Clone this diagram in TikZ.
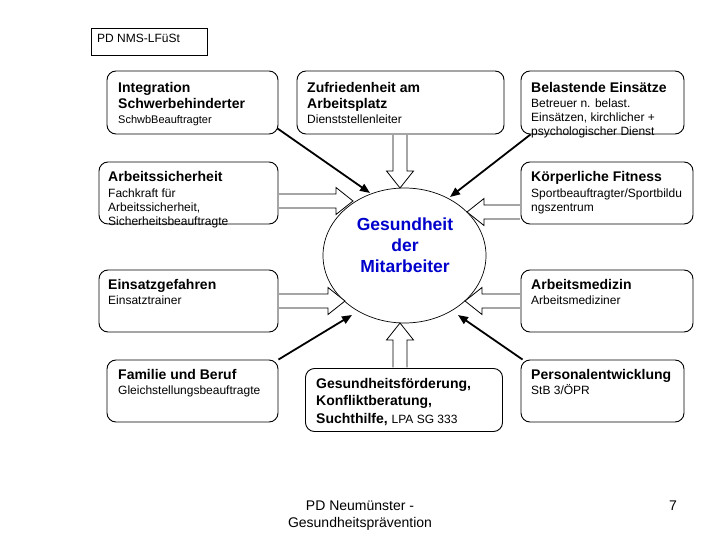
\documentclass[tikz,border=0pt]{standalone}
\usepackage{fontspec}
\setmainfont{Liberation Sans}
\usetikzlibrary{shapes.geometric,arrows.meta,calc}
\definecolor{hblue}{RGB}{0,0,204}
\tikzset{
  box/.style={draw=black, line width=0.9pt, rounded corners=9pt, inner sep=0pt},
  hd/.style={anchor=north west, inner sep=0pt, align=left, font=\fontsize{14}{16}\selectfont\bfseries},
  sb/.style={anchor=north west, inner sep=0pt, align=left, font=\fontsize{12}{14}\selectfont},
  diag/.style={line width=1.8pt, -{Triangle[length=10pt,width=8pt]}},
  blk/.style={draw=black, line width=0.8pt, fill=white, line join=miter},
}
% horizontal block arrow: start, tip, direction (+1 right, -1 left)
\newcommand\harr[3]{\draw[blk] let \p1=(#1),\p2=(#2),\n1={\x2-17pt*#3},\n2={\x1+0.6pt*#3} in
  (\n2,\y2+7pt) -- (\n1,\y2+7pt) -- (\n1,\y2+13.5pt) -- (\x2,\y2) -- (\n1,\y2-13.5pt) -- (\n1,\y2-7pt) -- (\n2,\y2-7pt);}
% vertical block arrow: start, tip, canvas direction (+1 up, -1 down)
\newcommand\varr[3]{\draw[blk] let \p1=(#1),\p2=(#2),\n1={\y2-17pt*#3},\n2={\y1+0.6pt*#3} in
  (\x2+7pt,\n2) -- (\x2+7pt,\n1) -- (\x2+13.5pt,\n1) -- (\x2,\y2) -- (\x2-13.5pt,\n1) -- (\x2-7pt,\n1) -- (\x2-7pt,\n2);}
\begin{document}
\begin{tikzpicture}[x=1pt,y=-1pt]
\useasboundingbox[fill=white] (0,0) rectangle (720,540);

% title box
\node[draw=black, line width=0.8pt, minimum width=116pt, minimum height=27pt, inner sep=0pt] (pd) at (149,41.5) {};
\node[sb] (pdt) at (97,32.2) {\strut PD NMS-LFüSt};

% central ellipse
\node[draw=black, line width=0.7pt, ellipse, minimum width=163pt, minimum height=135pt, inner sep=0pt] (ell) at (404.5,255.5) {};
\node[anchor=north, inner sep=0pt, align=center, text=hblue, font=\fontsize{17.5}{21}\selectfont\bfseries] (ellt) at (405,215.3) {\strut Gesundheit\\der\\Mitarbeiter};

% boxes
\node[box, minimum width=171pt, minimum height=63pt] (b1) at (192.5,102.5) {};
\node[box, minimum width=207pt, minimum height=63pt] (b2) at (400.5,102.5) {};
\node[box, minimum width=163pt, minimum height=63pt] (b3) at (602.5,102.5) {};
\node[box, minimum width=179pt, minimum height=62pt] (b4) at (188.5,193) {};
\node[box, minimum width=172pt, minimum height=62pt] (b5) at (607,193) {};
\node[box, minimum width=179pt, minimum height=62pt] (b6) at (188.5,301) {};
\node[box, minimum width=172pt, minimum height=62pt] (b7) at (607,301) {};
\node[box, minimum width=171pt, minimum height=62pt] (b8) at (192.5,391) {};
\node[box, minimum width=197pt, minimum height=63pt] (b9) at (404,400) {};
\node[box, minimum width=163pt, minimum height=62pt] (b10) at (602.5,391) {};

% texts
\node[hd] (h1) at (118,80.8) {\strut Integration\\Schwerbehinderter};
\node[sb, font=\fontsize{11}{13}\selectfont] (s1) at (118,113.9) {\strut SchwbBeauftragter};
\node[hd] (h2) at (307,80.8) {\strut Zufriedenheit am\\Arbeitsplatz};
\node[sb] (s2) at (307,113.2) {\strut Dienststellenleiter};
\node[hd] (h3) at (531,80.8) {\strut Belastende Einsätze};
\node[sb] (s3) at (531,97.2) {\strut Betreuer n. belast.\\Einsätzen, kirchlicher +\\psychologischer Dienst};
\node[hd] (h4) at (108,169.8) {\strut Arbeitssicherheit};
\node[sb] (s4) at (108,187.2) {\strut Fachkraft für\\Arbeitssicherheit,\\Sicherheitsbeauftragte};
\node[hd] (h5) at (531,169.8) {\strut Körperliche Fitness};
\node[sb] (s5) at (531,187.2) {\strut Sportbeauftragter/Sportbildu\\ngszentrum};
\node[hd] (h6) at (108,277.8) {\strut Einsatzgefahren};
\node[sb] (s6) at (108,294.2) {\strut Einsatztrainer};
\node[hd] (h7) at (531,277.8) {\strut Arbeitsmedizin};
\node[sb] (s7) at (531,294.2) {\strut Arbeitsmediziner};
\node[hd] (h8) at (118,367.8) {\strut Familie und Beruf};
\node[sb] (s8) at (118,384.2) {\strut Gleichstellungsbeauftragte};
\node[hd, font=\fontsize{14}{17.5}\selectfont\bfseries] (h9) at (316,375.75) {\strut Gesundheitsförderung,\\Konfliktberatung,\\Suchthilfe, {\mdseries\fontsize{12}{17.5}\selectfont LPA SG 333}};
\node[hd] (h10) at (531,367.8) {\strut Personalentwicklung};
\node[sb] (s10) at (531,384.2) {\strut StB 3/ÖPR};

% footer
\node[anchor=north, inner sep=0pt, align=center, font=\fontsize{14}{17}\selectfont] (foot) at (360,498.1) {\strut PD Neumünster -\\Gesundheitsprävention};
\node[anchor=base west, inner sep=0pt, font=\fontsize{14}{17}\selectfont] (pg) at (669,510) {7};

% tip coordinates on the ellipse
\coordinate (tT) at (400,188);
\coordinate (tB) at (400,323);
\coordinate (tL1) at (353,201);
\coordinate (tL2) at (345,301);
\coordinate (tR1) at (467,212);
\coordinate (tR2) at (465,301);
\coordinate (dA) at (370,193);
\coordinate (dB) at (450,197);
\coordinate (dC) at (352,315);
\coordinate (dD) at (458,315);

% block arrows
\varr{b2.south}{tT}{-1}
\varr{b9.north}{tB}{1}
\harr{b4.east}{tL1}{1}
\harr{b6.east}{tL2}{1}
\harr{b5.west}{tR1}{-1}
\harr{b7.west}{tR2}{-1}

% diagonal arrows
\draw[diag] ($(b1.south east)+(-1,-6)$) -- (dA);
\draw[diag] ($(b3.south west)+(10,0)$) -- (dB);
\draw[diag] (b8.north east) -- (dC);
\draw[diag] ($(b10.north west)+(2,0)$) -- (dD);
\end{tikzpicture}
\end{document}
